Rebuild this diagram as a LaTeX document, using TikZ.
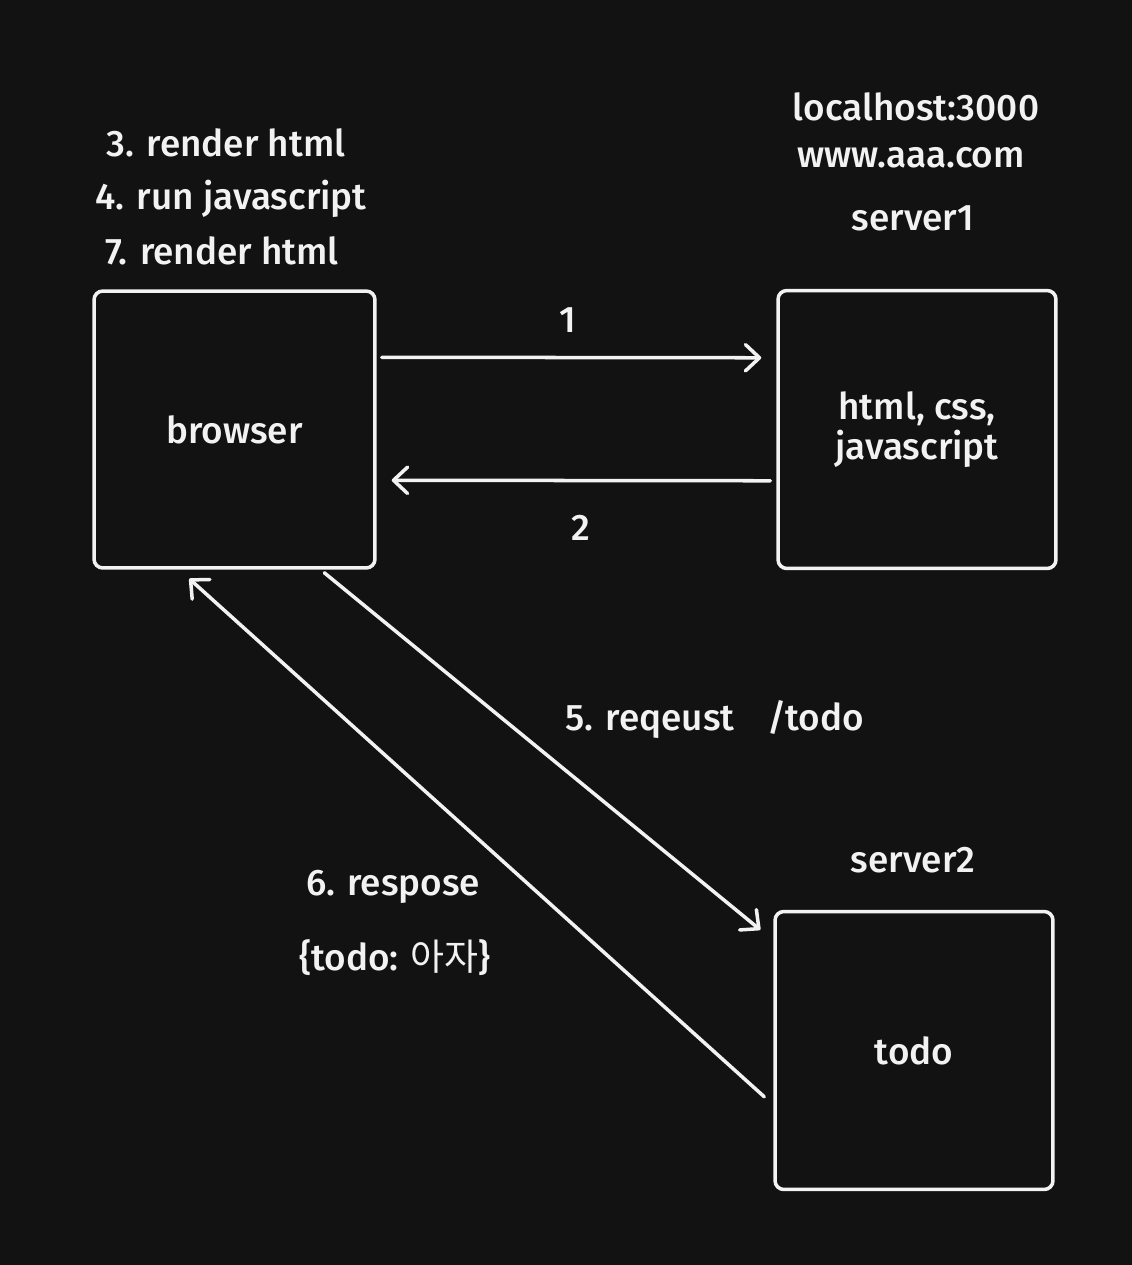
\documentclass[tikz,border=0pt]{standalone}
\usepackage{fontspec}
\setmainfont{Fira Sans}[UprightFont=* Medium]
\newfontfamily\cjk{Noto Sans CJK KR}
\usepackage{xcolor}
\usetikzlibrary{positioning,calc,arrows.meta}
\definecolor{canvas}{HTML}{121212}
\definecolor{ink}{HTML}{F2F2F2}

\begin{document}
\begin{tikzpicture}[
    x=0.02cm, y=-0.02cm,
    box/.style={draw=ink, line width=2pt, rounded corners=5pt, minimum width=5.56cm, minimum height=5.56cm, text=ink, font=\fontsize{21}{23}\selectfont, align=center},
    lbl/.style={text=ink, font=\fontsize{21}{23}\selectfont, inner sep=0pt},
    flow/.style={draw=ink, line width=2pt, line cap=round, -{Straight Barb[length=8pt, width=15pt, line cap=round, line join=round]}}
]
    \fill [canvas] (0,0) rectangle (1132,1265);

    % Boxes
    \node [box, minimum width=5.62cm, minimum height=5.54cm] (browser) at (234.5,429.5) {browser};
    \node [box] (server1) at (917,429.5) {html, css,\\javascript};
    \node [box] (todo) at (914,1050.5) {todo};

    % Browser steps
    \node [lbl] (step3) at (226,143) {3. render html};
    \node [lbl] (step4) at (231,199) {4. run javascript};
    \node [lbl] (step7) at (222,251) {7. render html};

    % Server labels
    \node [lbl] (host) at (916,107) {localhost:3000};
    \node [lbl] (domain) at (911,158) {www.aaa.com};
    \node [lbl] (name1) at (913,218) {server1};
    \node [lbl] (name2) at (913,860) {server2};

    % Connectors
    \draw [flow] ([shift={(5,68)}]browser.north east) -- ([shift={(-15,69)}]server1.north west);
    \draw [flow] ([shift={(-6,192)}]server1.north west) -- ([shift={(15,191)}]browser.north east);
    \draw [flow] ([shift={(232,3)}]browser.south west) -- ([shift={(-13,20)}]todo.north west);
    \draw [flow] ([shift={(-9,187)}]todo.north west) -- ([shift={(97,9)}]browser.south west);

    % Connector labels
    \node [lbl] (one) at (568,320) {1};
    \node [lbl] (two) at (581,528) {2};
    \node [lbl, anchor=west] (req) at (565,720) {5. reqeust\hspace{0.9em}/todo};
    \node [lbl] (resp) at (393,887) {6. respose};
    \node [lbl] (payload) at (395,958) {\{todo: {\cjk 아자}\}};
\end{tikzpicture}
\end{document}
